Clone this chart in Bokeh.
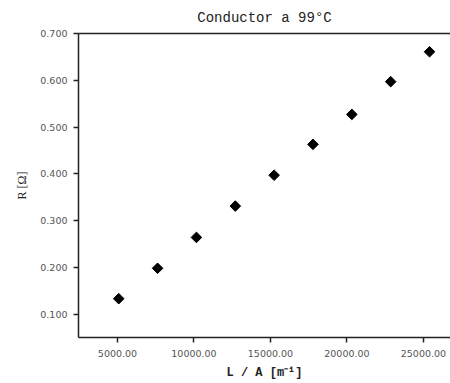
import math
from bokeh.plotting import figure
from bokeh.models import Range1d, FixedTicker, NumeralTickFormatter, LinearAxis
from bokeh.embed import file_html
from bokeh.resources import INLINE

# Data
l_over_a = [5080, 7620, 10160, 12700, 15240, 17780, 20320, 22860, 25400]
resistance = [0.133, 0.198, 0.264, 0.331, 0.397, 0.463, 0.527, 0.597, 0.661]
x_ticks = [5000, 10000, 15000, 20000, 25000]
y_ticks = [0.1, 0.2, 0.3, 0.4, 0.5, 0.6, 0.7]

p = figure(width=450, height=383, output_backend="svg", toolbar_location=None,
           x_range=Range1d(2450, 26770), y_range=Range1d(0.05, 0.70),
           min_border_left=78, min_border_right=0, min_border_top=0,
           min_border_bottom=46, title="Conductor a 99°C")

p.title.text_font = "Liberation Mono"
p.title.text_font_size = "14px"
p.title.text_font_style = "normal"
p.title.text_color = "#222222"
p.title.align = "center"
p.title.offset = 14
p.title.standoff = 15

p.scatter(l_over_a, resistance, marker="square", angle=math.pi / 4,
          size=7.5, color="black")

p.xgrid.visible = False
p.ygrid.visible = False
p.outline_line_color = None
p.background_fill_color = "white"
p.border_fill_color = "white"

xax = p.below[0]
yax = p.left[0]

for ax in (xax, yax):
    ax.axis_line_color = "#222222"
    ax.axis_line_width = 1.5
    ax.major_tick_line_color = "#222222"
    ax.major_tick_line_width = 1.5
    ax.major_tick_out = 5
    ax.major_tick_in = 0
    ax.minor_tick_line_color = None
    ax.major_label_text_font = "DejaVu Sans"
    ax.major_label_text_font_size = "9.5px"
    ax.major_label_text_color = "#555555"
    ax.axis_label_text_font = "Liberation Mono"
    ax.axis_label_text_font_size = "12px"
    ax.axis_label_text_font_style = "bold"
    ax.axis_label_text_color = "#222222"

xax.ticker = FixedTicker(ticks=x_ticks)
yax.ticker = FixedTicker(ticks=y_ticks)
xax.formatter = NumeralTickFormatter(format="0.00")
yax.formatter = NumeralTickFormatter(format="0.000")
xax.axis_label = "L / A [m⁻¹]"
yax.axis_label = "R [Ω]"
yax.axis_label_text_font = "Liberation Serif"
yax.axis_label_text_font_style = "normal"
xax.major_label_standoff = 7
xax.axis_label_standoff = 6
yax.major_label_standoff = 6
yax.axis_label_standoff = 8

top = LinearAxis(ticker=FixedTicker(ticks=[]), major_label_standoff=0,
                 axis_line_color="#222222", axis_line_width=1.5,
                 major_tick_line_color=None, minor_tick_line_color=None,
                 major_tick_out=0, major_tick_in=0)
p.add_layout(top, "above")

open("out.html", "w").write(file_html(p, INLINE))
